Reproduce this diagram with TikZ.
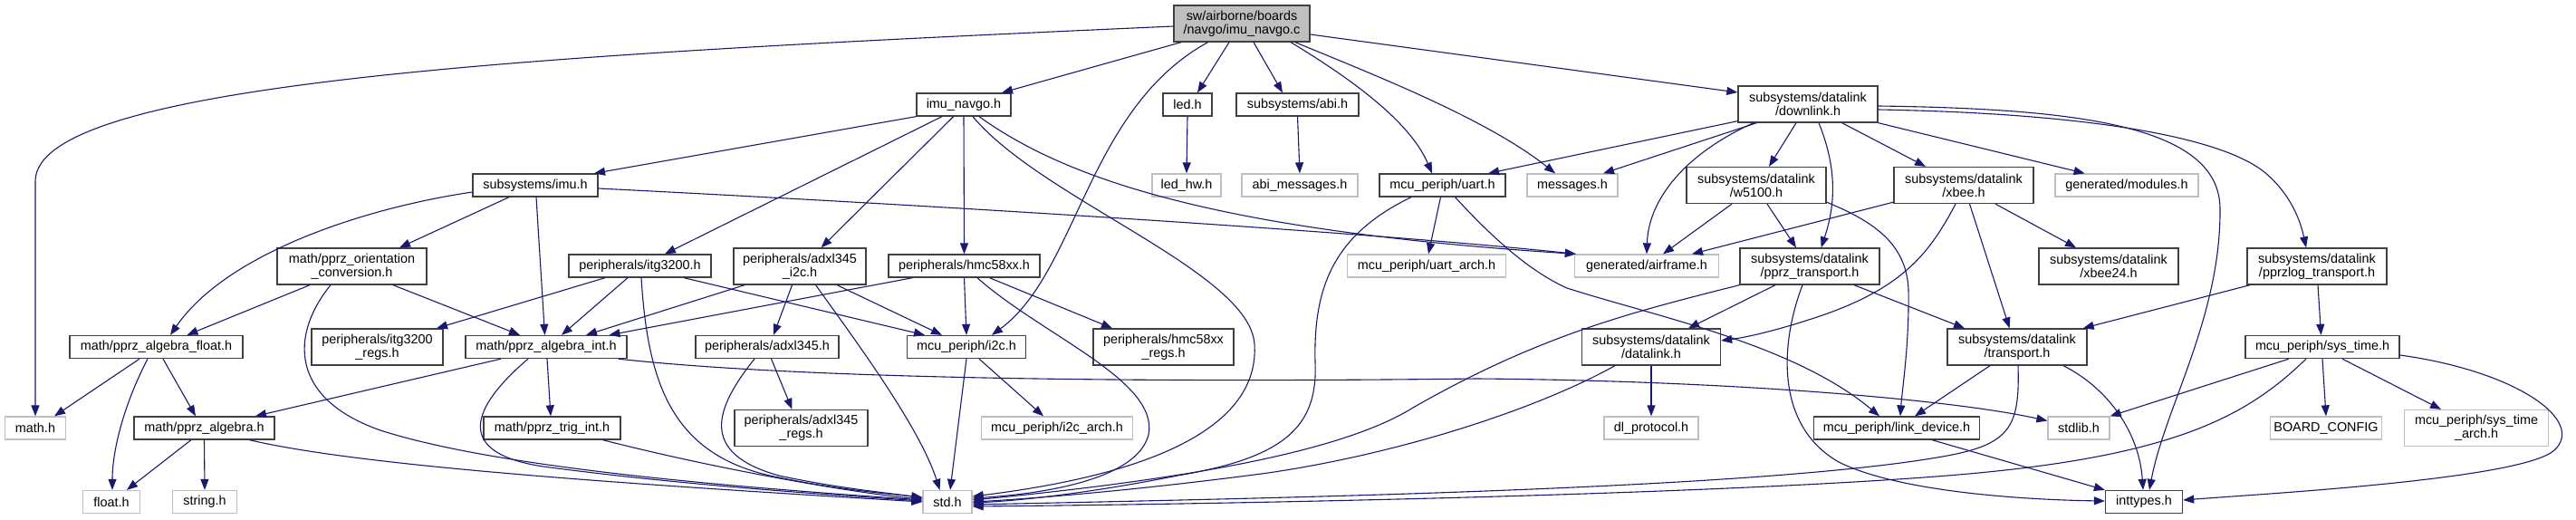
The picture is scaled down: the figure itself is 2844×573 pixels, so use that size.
\documentclass[tikz,border=0pt]{standalone}
\usepackage{fontspec}
\setmainfont{Liberation Sans}
\usetikzlibrary{arrows.meta}
\definecolor{edgec}{HTML}{191970}
\definecolor{bdark}{HTML}{404040}
\definecolor{blight}{HTML}{BFBFBF}
\definecolor{rootfill}{HTML}{BFBFBF}
\begin{document}
\begin{tikzpicture}[x=1pt,y=-1pt,
  box/.style={rectangle, inner sep=0pt, line width=1.3pt, align=center, font=\fontsize{14.4}{15}\selectfont},
  dk/.style={box, draw=bdark, fill=white},
  lt/.style={box, draw=blight, fill=white},
  rt/.style={box, draw=bdark, fill=rootfill},
  sa/.style={minimum height=25pt},
  sb/.style={minimum height=40pt},
  e/.style={draw=edgec, line width=1.1pt, -{Triangle[length=12pt,width=9pt]}},
]
\useasboundingbox (0,0) rectangle (2844,573);
% row 0
\node[rt,sb,minimum width=150pt] (root) at (1371,26) {sw/airborne/boards\\/navgo/imu\_navgo.c};
% row 1
\node[dk,sa,minimum width=104pt] (imunavgo) at (1064,115.5) {imu\_navgo.h};
\node[dk,sa,minimum width=54pt] (led) at (1311,115.5) {led.h};
\node[dk,sa,minimum width=135pt] (abi) at (1432.5,115.5) {subsystems/abi.h};
\node[dk,sb,minimum width=154pt] (downlink) at (1996,115) {subsystems/datalink\\/downlink.h};
% row 2
\node[dk,sa,minimum width=138pt] (imu) at (591,204.5) {subsystems/imu.h};
\node[lt,sa,minimum width=76pt] (ledhw) at (1310,204.5) {led\_hw.h};
\node[lt,sa,minimum width=128pt] (abimsg) at (1435,204.5) {abi\_messages.h};
\node[dk,sa,minimum width=139pt] (uart) at (1592.5,204.5) {mcu\_periph/uart.h};
\node[lt,sa,minimum width=100pt] (messages) at (1736,204.5) {messages.h};
\node[dk,sb,minimum width=154pt] (wfive) at (1939,204.5) {subsystems/datalink\\/w5100.h};
\node[dk,sb,minimum width=154pt] (xbee) at (2168,204.5) {subsystems/datalink\\/xbee.h};
\node[lt,sa,minimum width=158pt] (modules) at (2348,204.5) {generated/modules.h};
% row 3
\node[dk,sb,minimum width=165pt] (orient) at (388.5,294) {math/pprz\_orientation\\\_conversion.h};
\node[dk,sa,minimum width=157pt] (itg) at (706.5,293.5) {peripherals/itg3200.h};
\node[dk,sb,minimum width=146pt] (adxli2c) at (883,294) {peripherals/adxl345\\\_i2c.h};
\node[dk,sa,minimum width=167pt] (hmc) at (1064.5,293.5) {peripherals/hmc58xx.h};
\node[lt,sa,minimum width=175pt] (uartarch) at (1575,293.5) {mcu\_periph/uart\_arch.h};
\node[lt,sa,minimum width=159pt] (airframe) at (1818,293.5) {generated/airframe.h};
\node[dk,sb,minimum width=154pt] (pprztr) at (1998,294) {subsystems/datalink\\/pprz\_transport.h};
\node[dk,sb,minimum width=154pt] (xbeetf) at (2328,294) {subsystems/datalink\\/xbee24.h};
\node[dk,sb,minimum width=154pt] (pprzlog) at (2558,294) {subsystems/datalink\\/pprzlog\_transport.h};
% row 4
\node[dk,sa,minimum width=191pt] (algfloat) at (172.5,383) {math/pprz\_algebra\_float.h};
\node[dk,sb,minimum width=145pt] (itgregs) at (416.5,383) {peripherals/itg3200\\\_regs.h};
\node[dk,sa,minimum width=178pt] (algint) at (603,383) {math/pprz\_algebra\_int.h};
\node[dk,sa,minimum width=158pt] (adxl) at (847,383) {peripherals/adxl345.h};
\node[dk,sa,minimum width=131pt] (itwoc) at (1067,383) {mcu\_periph/i2c.h};
\node[dk,sb,minimum width=155pt] (hmcregs) at (1284.5,383) {peripherals/hmc58xx\\\_regs.h};
\node[dk,sb,minimum width=153pt] (datalink) at (1823,383) {subsystems/datalink\\/datalink.h};
\node[dk,sb,minimum width=154pt] (transport) at (2227,383) {subsystems/datalink\\/transport.h};
\node[dk,sa,minimum width=170pt] (systime) at (2564,383) {mcu\_periph/sys\_time.h};
% row 5
\node[lt,sa,minimum width=67.5pt] (mathh) at (39,472.5) {math.h};
\node[dk,sa,minimum width=155pt] (alg) at (225.5,472.5) {math/pprz\_algebra.h};
\node[dk,sa,minimum width=151pt] (trig) at (609.5,472.5) {math/pprz\_trig\_int.h};
\node[dk,sb,minimum width=147pt] (adxlregs) at (884.5,472.5) {peripherals/adxl345\\\_regs.h};
\node[lt,sa,minimum width=167pt] (i2carch) at (1167,472.5) {mcu\_periph/i2c\_arch.h};
\node[lt,sa,minimum width=104pt] (dlproto) at (1823,472.5) {dl\_protocol.h};
\node[dk,sa,minimum width=183pt] (linkdev) at (2094,472.5) {mcu\_periph/link\_device.h};
\node[lt,sa,minimum width=68pt] (stdlib) at (2295,472.5) {stdlib.h};
\node[lt,sa,minimum width=123.5pt] (board) at (2568,472.5) {BOARD\_CONFIG};
\node[lt,sb,minimum width=158.5pt] (sta) at (2734,472.5) {mcu\_periph/sys\_time\\\_arch.h};
% row 6
\node[lt,sa,minimum width=63pt] (floath) at (123,554) {float.h};
\node[lt,sa,minimum width=71pt] (stringh) at (226,554) {string.h};
\node[lt,sa,minimum width=54pt] (stdh) at (1046,554) {std.h};
\node[dk,sa,minimum width=85pt] (inttypes) at (2367,554) {inttypes.h};

% edges from root
\draw[e] ([yshift=-3pt]root.west) .. controls (600,60) and (39,90) .. (39,200) -- (mathh.north);
\draw[e] ([xshift=-67pt]root.south) -- ([xshift=42pt]imunavgo.north);
\draw[e] ([xshift=-14pt]root.south) -- ([xshift=11pt]led.north);
\draw[e] ([xshift=13pt]root.south) -- ([xshift=-16.5pt]abi.north);
\draw[e] ([xshift=54pt]root.south) .. controls (1480,80) and (1555,130) .. ([xshift=-11.5pt]uart.north);
\draw[e] ([xshift=59pt]root.south) .. controls (1510,80) and (1640,130) .. ([xshift=-19pt]messages.north);
\draw[e] ([yshift=-12pt]root.east) -- ([yshift=13pt]downlink.west);
\draw[e] ([xshift=-37.4pt]root.south) .. controls (1200,120) and (1190,300) .. ([xshift=28pt]itwoc.north);
% imu_navgo
\draw[e] (imunavgo.south west) -- ([xshift=65pt]imu.north);
\draw[e] ([xshift=-24pt]imunavgo.south) -- ([xshift=27.5pt]itg.north);
\draw[e] ([xshift=-11.4pt]imunavgo.south) -- ([xshift=23.6pt]adxli2c.north);
\draw[e] (imunavgo.south) -- (hmc.north);
\draw[e] ([xshift=17pt]imunavgo.south) .. controls (1180,200) and (1350,255) .. ([xshift=2pt]airframe.north west);
\draw[e] ([xshift=10pt]imunavgo.south) .. controls (1150,220) and (1380,300) .. (1385,380) .. controls (1390,460) and (1300,520) .. ([yshift=6pt]stdh.east);
% hmc58xx
\draw[e] ([xshift=14.5pt]hmc.south) .. controls (1150,370) and (1280,420) .. (1268,480) .. controls (1255,530) and (1150,545) .. ([yshift=4pt]stdh.east);
\draw[e] ([xshift=-57pt]hmc.south) -- ([xshift=69.5pt]algint.north);
\draw[e] (hmc.south) -- (itwoc.north);
\draw[e] ([xshift=28pt]hmc.south) -- ([xshift=-56.5pt]hmcregs.north);
% adxl345_i2c
\draw[e] ([xshift=-8.5pt]adxli2c.south) -- ([xshift=7pt]adxl.north);
\draw[e] ([xshift=-61pt]adxli2c.south) -- ([xshift=44pt]algint.north);
\draw[e] ([xshift=41pt]adxli2c.south) -- ([xshift=-27pt]itwoc.north);
\draw[e] ([xshift=17.6pt]adxli2c.south) .. controls (940,370) and (1015,470) .. ([xshift=-8.5pt]stdh.north);
% itg3200
\draw[e] ([xshift=-38.5pt]itg.south) -- ([xshift=65.5pt]itgregs.north);
\draw[e] ([xshift=-13.5pt]itg.south) -- ([xshift=17pt]algint.north);
\draw[e] ([xshift=48.5pt]itg.south) -- ([xshift=-46pt]itwoc.north);
\draw[e] ([xshift=1.5pt]itg.south) .. controls (715,420) and (740,500) .. (850,525) .. controls (920,540) and (980,545) .. ([yshift=5pt]stdh.west);
% adxl345
\draw[e] ([xshift=4.5pt]adxl.south) -- ([xshift=-10pt]adxlregs.north);
\draw[e] ([xshift=-14pt]adxl.south) .. controls (790,450) and (770,500) .. (860,525) .. controls (930,540) and (990,545) .. ([yshift=4pt]stdh.west);
% i2c
\draw[e] ([xshift=14pt]itwoc.south) -- ([xshift=-15pt]i2carch.north);
\draw[e] (itwoc.south) -- ([xshift=3pt]stdh.north);
% imu
\draw[e] ([xshift=-29pt]imu.south) -- ([xshift=52.5pt]orient.north);
\draw[e] ([yshift=-7.5pt]imu.west) .. controls (400,230) and (250,280) .. ([xshift=15.5pt]algfloat.north);
\draw[e] ([xshift=1pt]imu.south) -- ([xshift=-1.5pt]algint.north);
\draw[e] ([yshift=-3.5pt]imu.east) .. controls (1000,225) and (1500,255) .. ([xshift=2pt]airframe.north west);
% orientation
\draw[e] ([xshift=-46.5pt]orient.south) -- ([xshift=34pt]algfloat.north);
\draw[e] ([xshift=45.5pt]orient.south) -- ([xshift=-29pt]algint.north);
\draw[e] ([xshift=-23.5pt]orient.south) .. controls (320,370) and (320,440) .. (420,475) .. controls (560,520) and (850,540) .. ([yshift=2pt]stdh.west);
% algebra float
\draw[e] ([xshift=-18.5pt]algfloat.south) -- ([xshift=21pt]mathh.north);
\draw[e] ([xshift=-9.5pt]algfloat.south) .. controls (135,450) and (124,500) .. ([xshift=1pt]floath.north);
\draw[e] ([xshift=7.5pt]algfloat.south) -- ([xshift=-9.5pt]alg.north);
% algebra
\draw[e] ([xshift=-14.5pt]alg.south) -- ([xshift=17pt]floath.north);
\draw[e] (alg.south) -- (stringh.north);
\draw[e] ([xshift=50pt]alg.south) .. controls (400,515) and (700,535) .. (stdh.west);
% algebra int
\draw[e] ([xshift=-50pt]algint.south) -- ([xshift=56.5pt]alg.north);
\draw[e] ([xshift=1pt]algint.south) -- ([xshift=-1.5pt]trig.north);
\draw[e] ([xshift=-20pt]algint.south) .. controls (520,450) and (500,500) .. (600,515) .. controls (750,535) and (900,545) .. ([yshift=1pt]stdh.west);
\draw[e] ([xshift=-10pt]algint.south east) .. controls (900,420) and (1300,422) .. (1630,418) .. controls (1900,420) and (2150,440) .. ([yshift=8pt]stdlib.west);
\draw[e] ([xshift=56pt]trig.south) .. controls (800,520) and (950,545) .. ([yshift=3pt]stdh.west);
% uart
\draw[e] ([xshift=-2pt]uart.south) -- ([xshift=2pt]uartarch.north);
\draw[e] ([xshift=-34.5pt]uart.south) .. controls (1470,260) and (1450,320) .. (1452,400) .. controls (1455,470) and (1420,505) .. (1300,525) .. controls (1200,545) and (1120,553) .. ([yshift=-1pt]stdh.east);
\draw[e] ([xshift=14pt]uart.south) .. controls (1650,265) and (1690,300) .. (1730,318) .. controls (1830,350) and (1980,380) .. ([xshift=-19pt]linkdev.north);
\draw[e] (abi.south) -- (abimsg.north);
\draw[e] (led.south) -- (ledhw.north);
% downlink
\draw[e] ([yshift=2pt]downlink.south west) -- ([xshift=50.5pt]uart.north);
\draw[e] ([xshift=-56.5pt]downlink.south) -- ([xshift=34pt]messages.north);
\draw[e] ([xshift=-60pt]downlink.south) .. controls (1860,170) and (1820,220) .. (airframe.north);
\draw[e] ([xshift=-13pt]downlink.south) -- ([xshift=14pt]wfive.north);
\draw[e] ([xshift=12pt]downlink.south) .. controls (2030,190) and (2025,230) .. ([xshift=12.6pt]pprztr.north);
\draw[e] ([xshift=37.6pt]downlink.south) -- ([xshift=-42pt]xbee.north);
\draw[e] (downlink.south east) -- ([xshift=-46.4pt]modules.north);
\draw[e] ([yshift=-2pt]downlink.east) .. controls (2300,120) and (2450,140) .. (2451,230) .. controls (2452,350) and (2390,450) .. ([xshift=6pt]inttypes.north);
\draw[e] ([yshift=-6pt]downlink.east) .. controls (2300,125) and (2450,150) .. (2500,190) .. controls (2530,215) and (2540,245) .. ([xshift=-12pt]pprzlog.north);
% w5100
\draw[e] ([xshift=-27pt]wfive.south) -- ([xshift=18pt]airframe.north);
\draw[e] ([xshift=12pt]wfive.south) -- ([xshift=-15pt]pprztr.north);
\draw[e] ([yshift=2pt]wfive.south east) .. controls (2070,245) and (2105,270) .. (2107,320) .. controls (2108,380) and (2100,430) .. ([xshift=4pt]linkdev.north);
% xbee
\draw[e] ([yshift=2pt]xbee.south west) -- ([xshift=50pt]airframe.north);
\draw[e] ([xshift=-9pt]xbee.south) .. controls (2130,280) and (2100,320) .. (2000,352) .. controls (1960,365) and (1930,372) .. ([yshift=7pt]datalink.east);
\draw[e] ([xshift=6.5pt]xbee.south) -- ([xshift=-8.4pt]transport.north);
\draw[e] ([xshift=35pt]xbee.south) -- ([xshift=-36pt]xbeetf.north);
% pprz_transport
\draw[e] (pprztr.south west) .. controls (1800,345) and (1700,370) .. (1560,450) .. controls (1480,500) and (1300,530) .. ([yshift=2pt]stdh.east);
\draw[e] ([xshift=-38pt]pprztr.south) -- ([xshift=41pt]datalink.north);
\draw[e] ([xshift=49pt]pprztr.south) -- ([xshift=-58pt]transport.north);
\draw[e] ([xshift=-8pt]pprztr.south) .. controls (1965,380) and (1960,470) .. (2030,510) .. controls (2100,545) and (2250,552) .. ([yshift=1pt]inttypes.west);
% datalink
\draw[e] (datalink.south) -- (dlproto.north);
\draw[e] ([xshift=-40pt]datalink.south) .. controls (1700,450) and (1550,500) .. (1400,522) .. controls (1250,542) and (1130,551) .. (stdh.east);
% transport
\draw[e] ([xshift=-30pt]transport.south) -- ([xshift=20pt]linkdev.north);
\draw[e] ([xshift=1pt]transport.south) .. controls (2230,470) and (2220,490) .. (2150,503) .. controls (1950,540) and (1400,550) .. ([yshift=-3pt]stdh.east);
\draw[e] ([xshift=51pt]transport.south) .. controls (2330,430) and (2362,480) .. ([xshift=-1pt]inttypes.north);
\draw[e] ([xshift=39pt]linkdev.south) -- (inttypes.north west);
% pprzlog
\draw[e] ([xshift=-74pt]pprzlog.south) -- ([xshift=-5pt]transport.north east);
\draw[e] ([xshift=1pt]pprzlog.south) -- ([xshift=-1.5pt]systime.north);
% sys_time
\draw[e] ([xshift=-37pt]systime.south) -- (stdlib.north east);
\draw[e] ([xshift=-18pt]systime.south) .. controls (2480,460) and (2400,505) .. (2150,525) .. controls (1900,545) and (1400,556) .. ([yshift=-5pt]stdh.east);
\draw[e] (systime.south) -- (board.north);
\draw[e] ([xshift=22pt]systime.south) -- ([xshift=-39pt]sta.north);
\draw[e] ([yshift=-9pt]systime.east) .. controls (2780,410) and (2855,465) .. (2820,497) .. controls (2785,529) and (2500,545) .. ([yshift=2pt]inttypes.east);
\end{tikzpicture}
\end{document}
